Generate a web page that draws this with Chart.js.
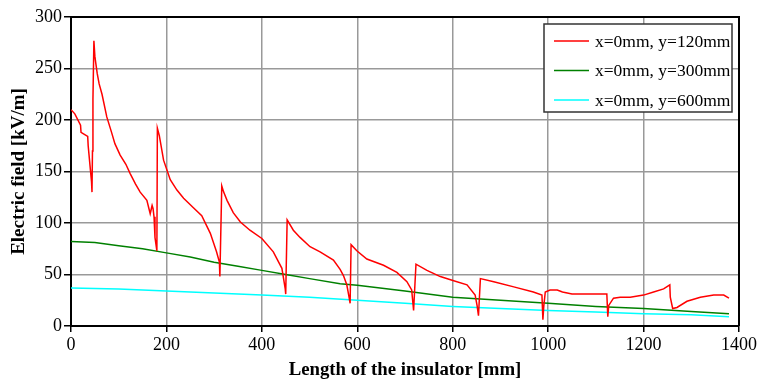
<!DOCTYPE html>
<html>
<head>
<meta charset="utf-8">
<script src="https://cdn.jsdelivr.net/npm/chart.js@4"></script>
<style>
html,body{margin:0;padding:0;background:#fff;}
#wrap{width:759px;height:381px;position:relative;}
</style>
</head>
<body>
<div id="wrap"><canvas id="c" width="759" height="381"></canvas></div>
<script>
// ---- data ----
const seriesLabels = ["x=0mm, y=120mm", "x=0mm, y=300mm", "x=0mm, y=600mm"];
const redX = [0,8,20,21,28,35,36,40,43,44,45,46,48,50,52,55,59,65,75,85,92,103,115,124,135,145,159,166,170,172,174,176,180,181,185,194,208,222,236,256,274,292,305,311,312,316,320,327,340,355,375,400,424,442,449,450,453,466,480,501,522,550,564,571,578,582,585,587,599,620,655,683,704,714,716,718,723,746,774,802,830,847,851,854,858,886,928,969,987,989,991,994,1004,1019,1030,1050,1123,1125,1127,1137,1151,1172,1200,1221,1242,1255,1256,1261,1270,1291,1319,1347,1368,1379];
const redY = [210,206,195,188,186,184,175,155,140,130,170,220,277,262,255,245,235,225,203,188,177,166,157,148,138,130,122,109,117,114,106,86,73,192,185,161,142,132,124,115,107,90,72,62,48,136,130,122,110,101,93,85,72,56,36,31,103,93,86,77,72,64,55,49,40,30,22,79,73,65,59,52,43,35,25,15,60,54,48,44,40,30,20,10,46,43,38,33,30,6,20,33,35,35,33,31,31,9,20,27,28,28,30,33,36,40,28,17,18,24,28,30,30,27];
const greenX = [0,50,100,150,200,250,300,350,400,450,500,564,600,700,800,900,1000,1100,1200,1300,1379];
const greenY = [82,81,78,75,71,67,62,58,54,50,46,41,39.5,34,28,25,22,19,17,14,12];
const cyanX = [0,100,200,300,400,500,600,700,800,900,1000,1100,1200,1300,1379];
const cyanY = [37,36,34,32,30,28,25,22,19,17,15,13.5,12,11,9];
const xTicks = [0,200,400,600,800,1000,1200,1400];
const yTicks = [0,50,100,150,200,250,300];
const xTitle = "Length of the insulator [mm]";
const yTitle = "Electric field [kV/m]";

const FONT = "'Liberation Serif','Times New Roman',serif";
const zip = (xs, ys) => xs.map((x, i) => ({x, y: ys[i]}));

const frameAndLegend = {
  id: 'frameAndLegend',
  afterDraw(chart) {
    const {ctx, chartArea: a} = chart;
    ctx.save();
    ctx.strokeStyle = '#000';
    ctx.lineWidth = 2;
    ctx.beginPath();
    ctx.moveTo(a.left, a.top);
    ctx.lineTo(a.right, a.top);
    ctx.lineTo(a.right, a.bottom);
    ctx.stroke();
    // legend box
    const w = 188, h = 88;
    const bx = a.right - 7 - w, by = a.top + 7;
    ctx.fillStyle = '#fff';
    ctx.fillRect(bx, by, w, h);
    ctx.strokeStyle = '#333';
    ctx.lineWidth = 1.5;
    ctx.strokeRect(bx, by, w, h);
    ctx.font = "17.5px " + FONT;
    ctx.textBaseline = 'middle';
    chart.data.datasets.forEach((ds, i) => {
      const yy = by + 17 + i * 29.5;
      ctx.strokeStyle = ds.borderColor;
      ctx.lineWidth = 1.5;
      ctx.beginPath();
      ctx.moveTo(bx + 10, yy);
      ctx.lineTo(bx + 45, yy);
      ctx.stroke();
      ctx.fillStyle = '#000';
      ctx.fillText(ds.label, bx + 51, yy + 1);
    });
    ctx.restore();
  }
};

new Chart(document.getElementById('c'), {
  type: 'line',
  data: {
    datasets: [
      {label: seriesLabels[0], data: zip(redX, redY), borderColor: '#ff0000', borderWidth: 1.5, pointRadius: 0, tension: 0},
      {label: seriesLabels[1], data: zip(greenX, greenY), borderColor: '#008000', borderWidth: 1.5, pointRadius: 0, tension: 0},
      {label: seriesLabels[2], data: zip(cyanX, cyanY), borderColor: '#00ffff', borderWidth: 1.5, pointRadius: 0, tension: 0}
    ]
  },
  options: {
    responsive: false,
    animation: false,
    devicePixelRatio: 1,
    layout: {padding: {top: 17, right: 20, left: 0, bottom: 0}},
    plugins: {legend: {display: false}, tooltip: {enabled: false}},
    scales: {
      x: {
        type: 'linear', min: 0, max: 1400,
        afterBuildTicks: s => { s.ticks = xTicks.map(v => ({value: v})); },
        afterFit: s => { s.height = 55; },
        ticks: {color: '#000', font: {family: FONT, size: 18}, padding: 2, maxRotation: 0, autoSkip: false, callback: v => String(v)},
        grid: {color: '#999', lineWidth: 1.5, tickColor: '#000', tickLength: 6, tickWidth: 1.5},
        border: {color: '#000', width: 2},
        title: {display: true, text: xTitle, color: '#000', font: {family: FONT, size: 18.8, weight: 'bold'}, padding: {top: 0, bottom: 0}}
      },
      y: {
        type: 'linear', min: 0, max: 300,
        afterBuildTicks: s => { s.ticks = yTicks.map(v => ({value: v})); },
        afterFit: s => { s.width = 71; },
        ticks: {color: '#000', font: {family: FONT, size: 18}, padding: 2, autoSkip: false, callback: v => String(v)},
        grid: {color: '#999', lineWidth: 1.5, tickColor: '#000', tickLength: 7, tickWidth: 1.5},
        border: {color: '#000', width: 2},
        title: {display: true, text: yTitle, color: '#000', font: {family: FONT, size: 19, weight: 'bold'}, padding: {top: 8, bottom: 0}}
      }
    }
  },
  plugins: [frameAndLegend]
});
</script>
</body>
</html>
